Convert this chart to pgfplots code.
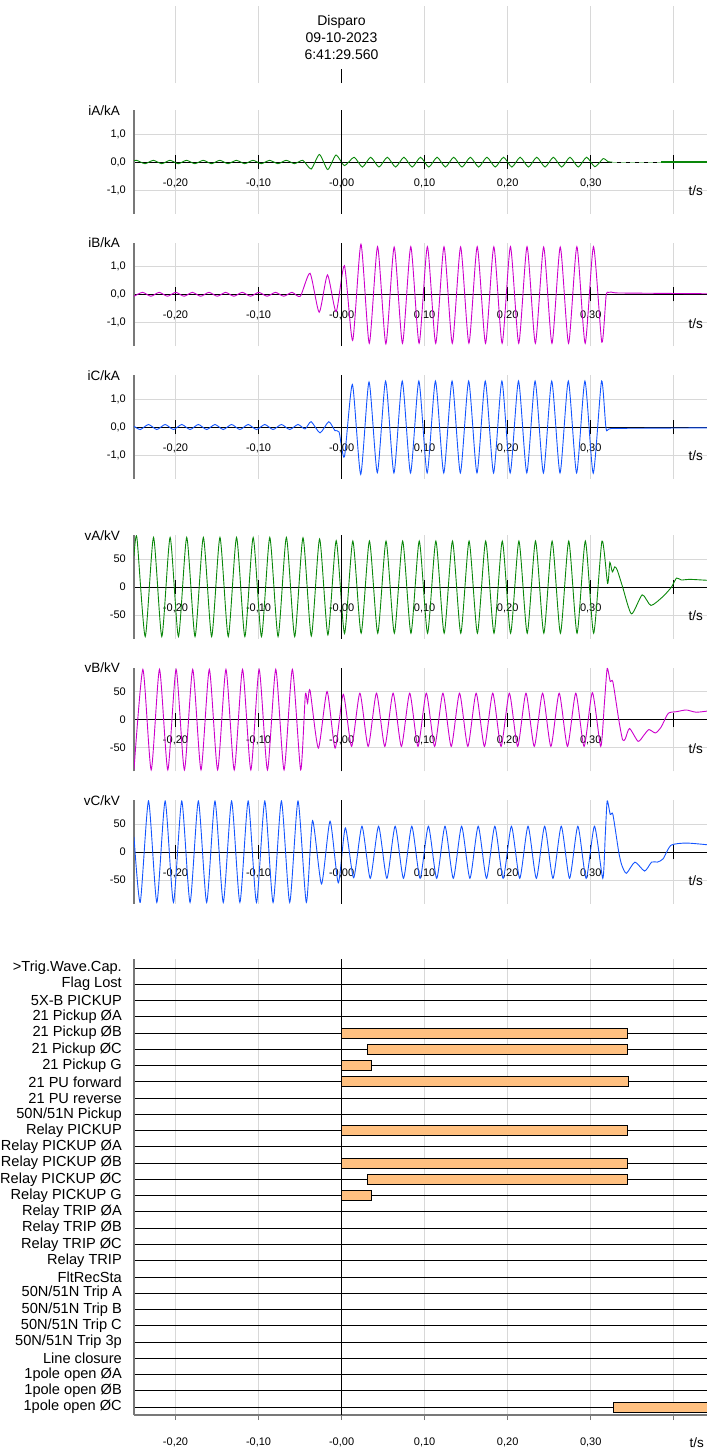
\documentclass[border=0pt]{standalone}
\usepackage{fontspec}
\setmainfont{Liberation Sans}
\usepackage{pgfplots}
\pgfplotsset{compat=1.18}
\newcommand{\fs}[1]{\fontsize{#1}{#1}\selectfont}
\definecolor{cgreen}{RGB}{10,135,10}
\definecolor{cmag}{RGB}{204,0,204}
\definecolor{cblue}{RGB}{20,85,255}
\definecolor{cbar}{RGB}{255,192,128}
\definecolor{cgrid}{RGB}{216,216,216}
\definecolor{caxis}{RGB}{120,120,120}
\pgfplotsset{
  wave/.style={
    scale only axis, width=573pt, height=103.6pt, anchor=north west,
    xmin=-0.25, xmax=0.44,
    axis x line=middle, axis y line=left,
    x axis line style={-, black, line width=0.9pt},
    y axis line style={-, draw=caxis, line width=1.8pt},
    xtick={-0.2,-0.1,0,0.1,0.2,0.3,0.4},
    xticklabels={{-0,20},{-0,10},{-0,00},{0,10},{0,20},{0,30},{}},
    tick align=center, major tick length=14pt,
    x tick style={black, line width=1pt},
    y tick style={draw=none},
    xticklabel style={font=\fs{11}, anchor=center, yshift=-14pt, inner sep=0pt},
    yticklabel style={font=\fs{11}, anchor=east, inner sep=0pt, xshift=-1pt},
    hide obscured x ticks=false, hide obscured y ticks=false,
    grid=major, grid style={draw=cgrid, line width=0.8pt},
  },
  cur/.style={wave, ymin=-1.85, ymax=1.85, ytick={-1,0,1}, yticklabels={{-1,0},{0,0},{1,0}}},
  volt/.style={wave, ymin=-92.5, ymax=92.5, ytick={-50,0,50}, yticklabels={{-50},{0},{50}}},
  wf/.style={smooth, tension=0.38, line width=0.9pt, mark=none},
  zl/.style={black, line width=1.2pt, mark=none},
}
\begin{document}
\begin{tikzpicture}
\path[use as bounding box] (0,0) rectangle (707pt,-1449pt);

% ---------- header ----------
\begin{axis}[scale only axis, width=573pt, height=77pt, at={(134pt,-6pt)}, anchor=north west,
  xmin=-0.25, xmax=0.44, ymin=0, ymax=1,
  axis line style={draw=none}, xtick={-0.2,-0.1,0.1,0.2,0.3,0.4},
  xticklabels={{},{},{},{},{},{}}, ytick=\empty,
  major tick length=0pt, grid=major, grid style={draw=cgrid, line width=0.8pt}]
\addplot[black, line width=1pt] coordinates {(0,0) (0,0.18)};
\end{axis}
\node[font=\fs{14}, anchor=base] at (341.5pt,-25pt) {Disparo};
\node[font=\fs{14}, anchor=base] at (341.5pt,-42pt) {09-10-2023};
\node[font=\fs{14}, anchor=base] at (341.5pt,-59pt) {6:41:29.560};

% ---------- iA ----------
\begin{axis}[cur, at={(134pt,-110.2pt)}]
\addplot[wf, cgreen] coordinates {(-0.25,0.04) (-0.2467,0.06) (-0.2367,-0.06) (-0.2267,0.06) (-0.2167,-0.06) (-0.2067,0.06) (-0.1967,-0.06) (-0.1867,0.06) (-0.1767,-0.06) (-0.1667,0.06) (-0.1567,-0.06) (-0.1467,0.06) (-0.1367,-0.06) (-0.1267,0.06) (-0.1167,-0.06) (-0.1067,0.06) (-0.0967,-0.06) (-0.0867,0.06) (-0.0767,-0.06) (-0.0667,0.06) (-0.0567,-0.06) (-0.0467,0.06) (-0.0367,-0.25) (-0.0267,0.27) (-0.0167,-0.27) (-0.0067,0.25) (0.0034,-0.13) (0.015,0.17) (0.025,-0.18) (0.035,0.17) (0.045,-0.18) (0.055,0.17) (0.065,-0.18) (0.075,0.17) (0.085,-0.18) (0.095,0.17) (0.105,-0.18) (0.115,0.17) (0.125,-0.18) (0.135,0.17) (0.145,-0.18) (0.155,0.17) (0.165,-0.18) (0.175,0.17) (0.185,-0.18) (0.195,0.17) (0.205,-0.18) (0.215,0.17) (0.225,-0.18) (0.235,0.17) (0.245,-0.18) (0.255,0.17) (0.265,-0.18) (0.275,0.17) (0.285,-0.18) (0.295,0.17) (0.305,-0.17) (0.315,0.12) (0.321,0.01) (0.326,0)};
\addplot[cgreen!45, line width=0.9pt, dash pattern=on 5pt off 4pt] coordinates {(0.326,0) (0.385,0)};
\addplot[cgreen, line width=1.1pt] coordinates {(0.385,0) (0.44,0)};
\addplot[zl] coordinates {(0,-1.85) (0,1.85)};
\end{axis}
\node[font=\fs{13.5}, anchor=east, inner sep=0pt] at (120pt,-110.2pt) {iA/kA};
\node[font=\fs{13.5}, anchor=east, inner sep=0pt] at (703pt,-191pt) {t/s};

% ---------- iB ----------
\begin{axis}[cur, at={(134pt,-242.5pt)}]
\addplot[wf, cmag] coordinates {(-0.25,-0.07) (-0.2397,0.07) (-0.2297,-0.07) (-0.2197,0.07) (-0.2097,-0.07) (-0.1997,0.07) (-0.1897,-0.07) (-0.1797,0.07) (-0.1697,-0.07) (-0.1597,0.07) (-0.1497,-0.07) (-0.1397,0.07) (-0.1297,-0.07) (-0.1197,0.07) (-0.1097,-0.07) (-0.0997,0.07) (-0.0897,-0.07) (-0.0797,0.07) (-0.0697,-0.07) (-0.0597,0.07) (-0.0497,-0.07) (-0.038,0.75) (-0.027,-0.64) (-0.017,0.69) (-0.0066,-0.62) (0.0034,1.02) (0.0133,-1.65) (0.0233,1.79) (0.0333,-1.75) (0.0433,1.70) (0.0533,-1.77) (0.0633,1.69) (0.0733,-1.75) (0.0833,1.70) (0.0933,-1.75) (0.1033,1.70) (0.1133,-1.75) (0.1233,1.70) (0.1333,-1.75) (0.1433,1.69) (0.1533,-1.75) (0.1633,1.70) (0.1733,-1.75) (0.1833,1.70) (0.1933,-1.75) (0.2033,1.70) (0.2133,-1.75) (0.2233,1.70) (0.2333,-1.75) (0.2433,1.69) (0.2533,-1.75) (0.2633,1.69) (0.2733,-1.75) (0.2833,1.70) (0.2933,-1.75) (0.3033,1.70) (0.3133,-1.71) (0.3185,-0.05) (0.3215,0.07) (0.325,0.08) (0.33,0.05) (0.36,0.04) (0.44,0.02)};
\addplot[zl] coordinates {(0,-1.85) (0,1.85)};
\end{axis}
\node[font=\fs{13.5}, anchor=east, inner sep=0pt] at (120pt,-242.5pt) {iB/kA};
\node[font=\fs{13.5}, anchor=east, inner sep=0pt] at (703pt,-323.3pt) {t/s};

% ---------- iC ----------
\begin{axis}[cur, at={(134pt,-375.2pt)}]
\addplot[wf, cblue] coordinates {(-0.25,0.03) (-0.2425,-0.09) (-0.2325,0.09) (-0.2225,-0.09) (-0.2125,0.09) (-0.2025,-0.09) (-0.1925,0.09) (-0.1825,-0.09) (-0.1725,0.09) (-0.1625,-0.09) (-0.1525,0.09) (-0.1425,-0.09) (-0.1325,0.09) (-0.1225,-0.09) (-0.1125,0.09) (-0.1025,-0.09) (-0.0925,0.09) (-0.0825,-0.09) (-0.0725,0.09) (-0.0625,-0.09) (-0.0525,0.09) (-0.044,-0.07) (-0.0367,0.19) (-0.026,-0.21) (-0.0155,0.19) (-0.008,-0.13) (-0.003,-0.18) (0.0034,-1.06) (0.013,1.52) (0.023,-1.69) (0.033,1.61) (0.043,-1.63) (0.053,1.64) (0.063,-1.64) (0.073,1.64) (0.083,-1.64) (0.093,1.64) (0.103,-1.64) (0.113,1.64) (0.123,-1.64) (0.133,1.64) (0.143,-1.64) (0.153,1.64) (0.163,-1.64) (0.173,1.64) (0.183,-1.64) (0.193,1.64) (0.203,-1.64) (0.213,1.64) (0.223,-1.64) (0.233,1.64) (0.243,-1.64) (0.253,1.64) (0.263,-1.64) (0.273,1.64) (0.283,-1.64) (0.293,1.64) (0.303,-1.65) (0.313,1.64) (0.3185,-0.06) (0.325,-0.05) (0.38,-0.04) (0.44,-0.03)};
\addplot[zl] coordinates {(0,-1.85) (0,1.85)};
\end{axis}
\node[font=\fs{13.5}, anchor=east, inner sep=0pt] at (120pt,-375.2pt) {iC/kA};
\node[font=\fs{13.5}, anchor=east, inner sep=0pt] at (703pt,-456pt) {t/s};

% ---------- vA ----------
\begin{axis}[volt, at={(134pt,-535.2pt)}]
\addplot[wf, cgreen] coordinates {(-0.25,55) (-0.2465,88.5) (-0.2365,-88.5) (-0.2265,88.5) (-0.2165,-88.5) (-0.2065,88.5) (-0.1965,-88.5) (-0.1865,88.5) (-0.1765,-88.5) (-0.1665,88.5) (-0.1565,-88.5) (-0.1465,88.5) (-0.1365,-88.5) (-0.1265,88.5) (-0.1165,-88.5) (-0.1065,88.5) (-0.0965,-88.5) (-0.0865,88.5) (-0.0765,-88.5) (-0.0665,88.5) (-0.0565,-88.5) (-0.0465,88) (-0.0365,-87.5) (-0.0265,85.7) (-0.0165,-85.5) (-0.0065,82.7) (0.0035,-83) (0.0135,82) (0.0235,-82.5) (0.0335,82) (0.0435,-82.5) (0.0535,82) (0.0635,-82.5) (0.0735,82) (0.0835,-82.5) (0.0935,82) (0.1035,-82.5) (0.1135,82) (0.1235,-82.5) (0.1335,82) (0.1435,-82.5) (0.1535,82) (0.1635,-82.5) (0.1735,82) (0.1835,-82.5) (0.1935,82) (0.2035,-82.5) (0.2135,82) (0.2235,-82.5) (0.2335,82) (0.2435,-82.5) (0.2535,82) (0.2635,-82.5) (0.2735,82) (0.2835,-82.5) (0.2935,82) (0.3035,-82.5) (0.3135,82) (0.3203,6.5) (0.323,44) (0.326,27) (0.329,36) (0.332,30) (0.3384,0) (0.349,-48) (0.362,-14) (0.3725,-33) (0.387,-17) (0.3973,0) (0.4033,16) (0.409,12.5) (0.419,13.7) (0.44,12)};
\addplot[zl] coordinates {(0,-92.5) (0,92.5)};
\end{axis}
\node[font=\fs{13.5}, anchor=east, inner sep=0pt] at (120pt,-535.2pt) {vA/kV};
\node[font=\fs{13.5}, anchor=east, inner sep=0pt] at (703pt,-616pt) {t/s};

% ---------- vB ----------
\begin{axis}[volt, at={(134pt,-667.7pt)}]
\addplot[wf, cmag] coordinates {(-0.25,-89.5) (-0.2393,89.5) (-0.2293,-90) (-0.2193,89.5) (-0.2093,-90) (-0.1993,89.5) (-0.1893,-90) (-0.1793,89.5) (-0.1693,-90) (-0.1593,89.5) (-0.1493,-90) (-0.1393,89.5) (-0.1293,-90) (-0.1193,89.5) (-0.1093,-90) (-0.0993,89.5) (-0.0893,-90) (-0.0793,89.5) (-0.0693,-90) (-0.0593,89.5) (-0.0493,-90) (-0.0437,44) (-0.041,29) (-0.038,52) (-0.028,-51) (-0.0175,50) (-0.0078,-51) (0.002,45) (0.012,-48) (0.022,47) (0.032,-48) (0.042,47) (0.052,-48) (0.062,47) (0.072,-48) (0.082,47) (0.092,-48) (0.102,47) (0.112,-48) (0.122,47) (0.132,-48) (0.142,47) (0.152,-48) (0.162,47) (0.172,-48) (0.182,47) (0.192,-48) (0.202,47) (0.212,-48) (0.222,47) (0.232,-48) (0.242,47) (0.252,-48) (0.262,47) (0.272,-48) (0.282,47) (0.292,-48) (0.302,48) (0.312,-48) (0.3165,30) (0.3198,91) (0.3235,68) (0.3267,67) (0.3337,0) (0.3383,-36) (0.3415,-35) (0.3467,-16) (0.357,-39) (0.364,-28) (0.37,-18) (0.378,-24) (0.385,-13) (0.3933,11) (0.4035,14) (0.415,17) (0.4268,13) (0.44,15)};
\addplot[zl] coordinates {(0,-92.5) (0,92.5)};
\end{axis}
\node[font=\fs{13.5}, anchor=east, inner sep=0pt] at (120pt,-667.7pt) {vB/kV};
\node[font=\fs{13.5}, anchor=east, inner sep=0pt] at (703pt,-748.5pt) {t/s};

% ---------- vC ----------
\begin{axis}[volt, at={(134pt,-800.2pt)}]
\addplot[wf, cblue] coordinates {(-0.25,27) (-0.2425,-90) (-0.2325,91) (-0.2225,-90) (-0.2125,91) (-0.2025,-90) (-0.1925,91) (-0.1825,-90) (-0.1725,91) (-0.1625,-90) (-0.1525,91) (-0.1425,-90) (-0.1325,91) (-0.1225,-90) (-0.1125,91) (-0.1025,-90) (-0.0925,91) (-0.0825,-90) (-0.0725,91) (-0.0625,-90) (-0.0525,91) (-0.0425,-90) (-0.035,56) (-0.0242,-57) (-0.0139,55) (-0.004,-55) (0.0045,43) (0.0145,-46) (0.0245,46) (0.0345,-47) (0.0445,46) (0.0545,-47) (0.0645,46) (0.0745,-47) (0.0845,46) (0.0945,-47) (0.1045,46) (0.1145,-47) (0.1245,46) (0.1345,-47) (0.1445,46) (0.1545,-47) (0.1645,46) (0.1745,-47) (0.1845,46) (0.1945,-47) (0.2045,46) (0.2145,-47) (0.2245,46) (0.2345,-47) (0.2445,46) (0.2545,-47) (0.2645,46) (0.2745,-47) (0.2845,46) (0.2945,-47) (0.3045,46) (0.3145,-47) (0.3175,30) (0.3198,91) (0.3235,67) (0.3267,67) (0.3337,0) (0.3375,-24) (0.343,-38) (0.3532,-18) (0.3649,-34) (0.3733,-18) (0.3803,-18) (0.3873,-12) (0.3965,12) (0.415,16) (0.44,13)};
\addplot[zl] coordinates {(0,-92.5) (0,92.5)};
\end{axis}
\node[font=\fs{13.5}, anchor=east, inner sep=0pt] at (120pt,-800.2pt) {vC/kV};
\node[font=\fs{13.5}, anchor=east, inner sep=0pt] at (703pt,-881pt) {t/s};

% ---------- digital ----------
\begin{axis}[scale only axis, width=573pt, height=456pt, at={(134pt,-959pt)}, anchor=north west,
  xmin=-0.25, xmax=0.44, ymin=-0.49, ymax=27.55,
  axis x line=bottom, axis y line=left,
  x axis line style={-, draw=caxis, line width=1.8pt},
  y axis line style={-, draw=caxis, line width=1.8pt},
  xtick={-0.2,-0.1,0,0.1,0.2,0.3,0.4},
  xticklabels={{-0,20},{-0,10},{-0,00},{0,10},{0,20},{0,30},{}},
  tick align=outside, major tick length=5pt,
  x tick style={caxis, line width=1pt},
  ytick={0,...,27},
  yticklabels={{1pole open ØC},{1pole open ØB},{1pole open ØA},{Line closure},{50N/51N Trip 3p},{50N/51N Trip C},{50N/51N Trip B},{50N/51N Trip A},{FltRecSta},{Relay TRIP},{Relay TRIP ØC},{Relay TRIP ØB},{Relay TRIP ØA},{Relay PICKUP G},{Relay PICKUP ØC},{Relay PICKUP ØB},{Relay PICKUP ØA},{Relay PICKUP},{50N/51N Pickup},{21 PU reverse},{21 PU forward},{21 Pickup G},{21 Pickup ØC},{21 Pickup ØB},{21 Pickup ØA},{5X-B PICKUP},{Flag Lost},{>Trig.Wave.Cap.}},
  y tick style={draw=none},
  xticklabel style={font=\fs{11}, anchor=center, yshift=-22pt, inner sep=0pt},
  yticklabel style={font=\fs{14.6}, anchor=east, inner sep=0pt, xshift=-7pt},
  xmajorgrids, ymajorgrids,
  x grid style={draw=cgrid, line width=0.8pt},
  y grid style={draw=black, line width=0.8pt},
]
\addplot[black, line width=1pt] coordinates {(0,-0.49) (0,27.55)};
\addplot[fill=cbar, draw=black, line width=0.7pt] coordinates {(0,22.69) (0.344,22.69) (0.344,23.31) (0,23.31)} -- cycle;
\addplot[fill=cbar, draw=black, line width=0.7pt] coordinates {(0.031,21.69) (0.344,21.69) (0.344,22.31) (0.031,22.31)} -- cycle;
\addplot[fill=cbar, draw=black, line width=0.7pt] coordinates {(0,20.69) (0.0355,20.69) (0.0355,21.31) (0,21.31)} -- cycle;
\addplot[fill=cbar, draw=black, line width=0.7pt] coordinates {(0,19.69) (0.345,19.69) (0.345,20.31) (0,20.31)} -- cycle;
\addplot[fill=cbar, draw=black, line width=0.7pt] coordinates {(0,16.69) (0.344,16.69) (0.344,17.31) (0,17.31)} -- cycle;
\addplot[fill=cbar, draw=black, line width=0.7pt] coordinates {(0,14.69) (0.344,14.69) (0.344,15.31) (0,15.31)} -- cycle;
\addplot[fill=cbar, draw=black, line width=0.7pt] coordinates {(0.031,13.69) (0.344,13.69) (0.344,14.31) (0.031,14.31)} -- cycle;
\addplot[fill=cbar, draw=black, line width=0.7pt] coordinates {(0,12.69) (0.0355,12.69) (0.0355,13.31) (0,13.31)} -- cycle;
\addplot[fill=cbar, draw=black, line width=0.7pt] coordinates {(0.327,-0.31) (0.46,-0.31) (0.46,0.31) (0.327,0.31)} -- cycle;
\end{axis}
\node[font=\fs{13.5}, anchor=east, inner sep=0pt] at (704pt,-1443pt) {t/s};
\end{tikzpicture}
\end{document}
